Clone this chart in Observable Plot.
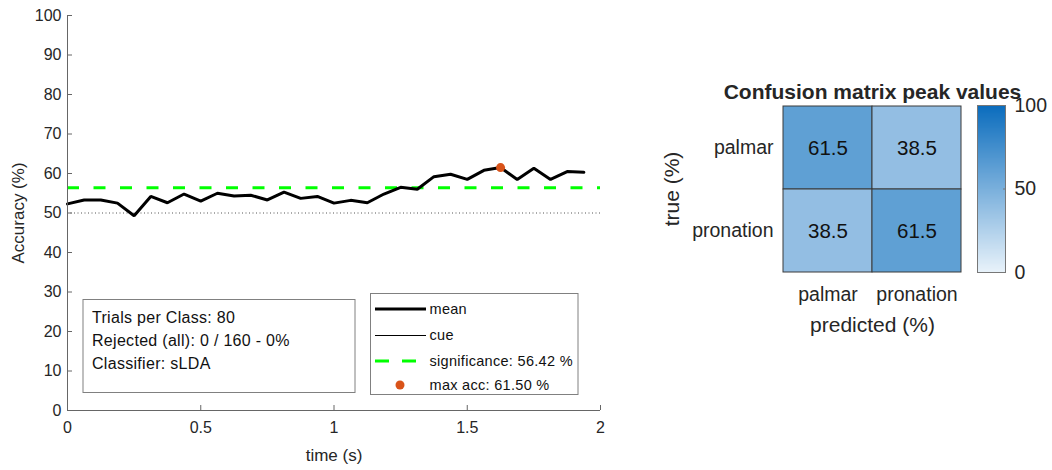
<!DOCTYPE html>
<html>
<head>
<meta charset="utf-8">
<script src="https://cdn.jsdelivr.net/npm/d3@7"></script>
<script src="https://cdn.jsdelivr.net/npm/@observablehq/plot@0.6"></script>
<style>
  html, body { margin: 0; padding: 0; background: white; overflow: hidden; }
  #root { position: relative; width: 1052px; height: 470px; font-family: "Liberation Sans", Arial, sans-serif; }
  #root > svg { position: absolute; left: 0; top: 0; }
</style>
</head>
<body>
<div id="root"></div>
<script>
// ---- data ----
const times = [0, 0.0625, 0.125, 0.1875, 0.25, 0.3125, 0.375, 0.4375, 0.5, 0.5625, 0.625, 0.6875,
  0.75, 0.8125, 0.875, 0.9375, 1.0, 1.0625, 1.125, 1.1875, 1.25, 1.3125, 1.375, 1.4375,
  1.5, 1.5625, 1.625, 1.6875, 1.75, 1.8125, 1.875, 1.9375];
const accuracy = [52.3, 53.3, 53.3, 52.5, 49.3, 54.2, 52.6, 54.8, 53.0, 55.0, 54.3, 54.5,
  53.3, 55.3, 53.7, 54.2, 52.5, 53.2, 52.6, 54.8, 56.5, 56.0, 59.2, 59.8,
  58.5, 60.8, 61.5, 58.5, 61.3, 58.5, 60.5, 60.3];
const chanceLevel = 50;
const significance = 56.42;
const maxAcc = {time: 1.625, acc: 61.5};
const xTicks = [0, 0.5, 1, 1.5, 2];
const yTicks = [0, 10, 20, 30, 40, 50, 60, 70, 80, 90, 100];
const infoLines = ["Trials per Class: 80", "Rejected (all): 0 / 160 - 0%", "Classifier: sLDA"];
const legendLabels = ["mean", "cue", "significance: 56.42 %", "max acc: 61.50 %"];

const classes = ["palmar", "pronation"];
const confusion = [[61.5, 38.5], [38.5, 61.5]]; // rows: true, cols: predicted
const colorTicks = [0, 50, 100];

const W = 1052, H = 470;
const root = document.getElementById("root");
const font = "Liberation Sans, Arial, sans-serif";
const txt = "#262626";

const series = times.map((t, i) => ({t, v: accuracy[i]}));

// ---- left plot ----
const left = Plot.plot({
  width: W, height: H,
  marginLeft: 67, marginRight: W - 600, marginTop: 15, marginBottom: H - 410,
  style: {background: "transparent", fontFamily: font, fontSize: "16px", color: txt, overflow: "visible"},
  x: {domain: [0, 2]},
  y: {domain: [0, 100]},
  marks: [
    Plot.ruleY([chanceLevel], {stroke: "#555", strokeWidth: 1, strokeDasharray: "1,2.5"}),
    Plot.ruleY([significance], {stroke: "#00ff00", strokeWidth: 3, strokeDasharray: "12,14.5"}),
    Plot.line(series, {x: "t", y: "v", stroke: "black", strokeWidth: 3, strokeLinejoin: "miter"}),
    Plot.dot([maxAcc], {x: "time", y: "acc", r: 4.5, fill: "#d95319", stroke: "none"}),
    Plot.ruleX([0], {stroke: "#666", strokeWidth: 1}),
    Plot.ruleY([0], {stroke: "#666", strokeWidth: 1}),
    Plot.axisX({ticks: xTicks, tickSize: -5, tickPadding: 16, stroke: "#666", label: null, tickFormat: d => String(d)}),
    Plot.axisY({ticks: yTicks, tickSize: -5, tickPadding: 11, stroke: "#666", label: null}),
    Plot.text(["Accuracy (%)"], {frameAnchor: "left", textAnchor: "middle", lineAnchor: "middle", rotate: -90, dx: -49, fontSize: 17, fill: txt}),
    Plot.text(["time (s)"], {frameAnchor: "bottom", lineAnchor: "middle", dy: 45, fontSize: 17, fill: txt})
  ]
});
root.appendChild(left);

// ---- info box and legend overlay ----
const ov = d3.select(root).append("svg").attr("width", W).attr("height", H)
  .style("font-family", font).style("overflow", "visible");
// info box
ov.append("rect").attr("x", 83).attr("y", 299.5).attr("width", 272).attr("height", 93)
  .attr("fill", "white").attr("stroke", "#808080").attr("stroke-width", 1);
ov.selectAll("text.info").data(infoLines).join("text").attr("class", "info")
  .attr("x", 92).attr("y", (d, i) => 317 + i * 23).attr("dy", "0.35em")
  .attr("font-size", 16).attr("letter-spacing", "0.3px").attr("fill", "#111").text(d => d);
// legend
ov.append("rect").attr("x", 370.5).attr("y", 293.5).attr("width", 207.5).attr("height", 101)
  .attr("fill", "white").attr("stroke", "#808080").attr("stroke-width", 1);
const legY = [309, 335, 361, 385];
ov.append("line").attr("x1", 375).attr("x2", 426).attr("y1", legY[0]).attr("y2", legY[0]).attr("stroke", "black").attr("stroke-width", 3);
ov.append("line").attr("x1", 375).attr("x2", 426).attr("y1", legY[1] + 0.5).attr("y2", legY[1] + 0.5).attr("stroke", "black").attr("stroke-width", 1);
ov.append("line").attr("x1", 375).attr("x2", 426).attr("y1", legY[2]).attr("y2", legY[2]).attr("stroke", "#00ff00").attr("stroke-width", 3).attr("stroke-dasharray", "14,13");
ov.append("circle").attr("cx", 400).attr("cy", legY[3]).attr("r", 4.5).attr("fill", "#d95319");
ov.selectAll("text.leg").data(legendLabels).join("text").attr("class", "leg")
  .attr("x", 429.5).attr("y", (d, i) => legY[i]).attr("dy", "0.35em")
  .attr("font-size", 14.5).attr("letter-spacing", "0.3px").attr("fill", "#111").text(d => d);

// ---- confusion matrix ----
const cells = [];
confusion.forEach((row, i) => row.forEach((v, j) => cells.push({true: classes[i], pred: classes[j], value: v})));
const colorScale = {type: "linear", domain: [0, 100], range: ["#e8f2fa", "#0a6cbd"]};

const cm = Plot.plot({
  width: W, height: H,
  marginLeft: 783, marginRight: W - 961, marginTop: 105, marginBottom: H - 272,
  style: {background: "transparent", fontFamily: font, fontSize: "19.5px", color: txt, overflow: "visible"},
  x: {domain: classes, padding: 0},
  y: {domain: classes, padding: 0},
  color: colorScale,
  marks: [
    Plot.cell(cells, {x: "pred", y: "true", fill: "value", stroke: "#3a3a3a", strokeWidth: 1}),
    Plot.text(cells, {x: "pred", y: "true", text: d => d.value.toFixed(1), fontSize: 20.5, fill: "#111"}),
    Plot.axisX({tickSize: 0, tickPadding: 15, label: null}),
    Plot.axisY({tickSize: 0, tickPadding: 10, label: null}),
    Plot.text(["true (%)"], {frameAnchor: "left", textAnchor: "middle", lineAnchor: "middle", rotate: -90, dx: -111, fontSize: 21, fill: txt}),
    Plot.text(["predicted (%)"], {frameAnchor: "bottom", lineAnchor: "middle", dy: 53, fontSize: 21, fill: txt}),
    Plot.text(["Confusion matrix peak values"], {frameAnchor: "top", lineAnchor: "middle", dy: -13, fontSize: 21, fontWeight: "bold", fill: txt, letterSpacing: "0.6px"})
  ]
});
root.appendChild(cm);

// ---- colorbar ----
const steps = d3.range(0, 100, 0.5);
const cb = Plot.plot({
  width: W, height: H,
  marginLeft: 977, marginRight: W - 1005, marginTop: 105, marginBottom: H - 272,
  style: {background: "transparent", fontFamily: font, fontSize: "19.5px", color: txt, overflow: "visible"},
  y: {domain: [0, 100]},
  color: colorScale,
  marks: [
    Plot.rect(steps, {y1: d => d, y2: d => Math.min(100, d + 1), fill: d => d + 0.25, shapeRendering: "crispEdges"}),
    Plot.frame({stroke: "#777", strokeWidth: 1}),
    Plot.axisY({anchor: "right", ticks: colorTicks, tickSize: -3, tickPadding: 12, stroke: "#777", label: null})
  ]
});
root.appendChild(cb);
</script>
</body>
</html>
